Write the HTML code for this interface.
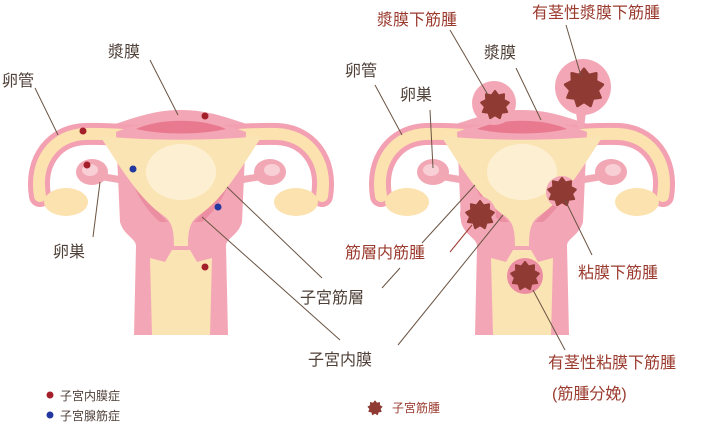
<!DOCTYPE html>
<html><head><meta charset="utf-8"><style>
html,body{margin:0;padding:0;background:#fff;}
svg{display:block}
text{font-family:"Liberation Sans","Noto Sans CJK JP",sans-serif;}
.b{fill:#4f4038;font-size:16px}
.r{fill:#9b3b2f;font-size:16px}
.l{stroke:#6b5443;stroke-width:1;fill:none}
</style></head><body>
<svg width="704" height="424" viewBox="0 0 704 424" xmlns="http://www.w3.org/2000/svg">
<defs>
<path id="star" d="M0,-1 L0.246,-0.677 L0.643,-0.766 L0.624,-0.36 L0.985,-0.174 L0.709,0.125 L0.866,0.5 L0.463,0.552 L0.342,0.94 L0,0.72 L-0.342,0.94 L-0.463,0.552 L-0.866,0.5 L-0.709,0.125 L-0.985,-0.174 L-0.624,-0.36 L-0.643,-0.766 L-0.246,-0.677 Z"/>
<g id="half">
  <path d="M122,180 L98,176" stroke="#f2a7b5" stroke-width="7"/>
  <ellipse cx="92" cy="172" rx="16" ry="13" fill="#f2a7b5"/>
  <ellipse cx="90" cy="170" rx="8" ry="6" fill="#f9cfd6"/>
  <path d="M40,196 C34,160 55,135 85,134 C120,133 150,138 181,138" fill="none" stroke="#f2a0b2" stroke-width="22" stroke-linecap="round"/>
  <path d="M40,196 C34,160 55,135 85,134 C120,133 150,138 181,138" fill="none" stroke="#fbe2ae" stroke-width="12" stroke-linecap="round"/>
  <ellipse cx="66" cy="202" rx="22" ry="14" fill="#fbe2ae"/>
</g>
<g id="uterus">
  <path d="M96,130 C130,120 150,110 181,110 C212,110 232,120 266,130 L266,142 L96,142Z" fill="#f3a7b6"/>
  <use href="#half"/>
  <use href="#half" transform="translate(362,0) scale(-1,1)"/>
  <path d="M116,132 C150,118 212,118 246,132 L242,222 C238,236 226,238 226,246 L228,335 L134,335 L136,246 C136,238 124,236 120,222 Z" fill="#f3a7b6"/>
  <path d="M136,129 C160,118 202,118 226,129 C200,135 162,135 136,129Z" fill="#e9798f"/>
  <path d="M124,145 C128,180 140,205 160,222 L168,222 C150,205 136,180 132,145Z" fill="#ec8ea2"/>
  <path d="M238,145 C234,180 222,205 202,222 L194,222 C212,205 226,180 230,145Z" fill="#ec8ea2"/>
  <path d="M100,136 C150,141 212,141 262,136 C240,170 222,200 198,216 C190,222 188,230 188,246 L174,246 C174,230 172,222 164,216 C140,200 122,170 100,136Z" fill="#fbe4b4"/>
  <ellipse cx="181" cy="172" rx="35" ry="28" fill="#fdf0d2"/>
  <path d="M150,258 L165,262 L172,250 L190,250 L197,262 L212,258 L210,335 L152,335 Z" fill="#fbe4b4"/>
</g>
</defs>

<use href="#uterus"/>
<g fill="#a3202a">
<circle cx="205" cy="116" r="3.5"/><circle cx="83" cy="131" r="3.5"/><circle cx="87" cy="165" r="3.5"/><circle cx="205" cy="267" r="3.5"/>
</g>
<g fill="#2238a0"><circle cx="133" cy="169" r="3.5"/><circle cx="218" cy="207" r="3.5"/></g>

<g transform="translate(341,0)"><use href="#uterus"/></g>
<circle cx="494" cy="103" r="22" fill="#f3a7b6"/>
<path d="M576,112 L586,112 L584,128 L578,128Z" fill="#f3a7b6"/>
<circle cx="583" cy="87" r="28" fill="#f3a7b6"/>
<circle cx="478" cy="214" r="18" fill="#f3a7b6"/>
<circle cx="562" cy="192" r="16" fill="#f3a7b6"/>
<circle cx="525" cy="276" r="18" fill="#ec8ea2"/>
<g fill="#8f3b33" stroke="#8f3b33" stroke-linejoin="round" stroke-width="0.15">
<use href="#star" transform="translate(495,105) scale(14)"/>
<use href="#star" transform="translate(584,88) scale(19)"/>
<use href="#star" transform="translate(480,215) scale(14)"/>
<use href="#star" transform="translate(562,192) scale(14)"/>
<use href="#star" transform="translate(525,276) scale(14)"/>
<use href="#star" transform="translate(375,408) scale(7)"/>
</g>

<path class="l" d="M35,88 L58,135 M150,60 L178,115 M100,182 L93,237 M227,187 L322,278 M202,217 L340,340
M375,85 L402,135 M430,110 L433,168 M516,68 L541,120 M450,30 L488,95 M566,25 L581,76
M382,288 L400,268 M422,243 L475,185 M398,345 L503,215 M565,200 L592,255 M533,290 L565,350"/>
<path d="M450,252 L472,225" stroke="#9b3b2f" stroke-width="1" fill="none"/>

<text class="b" x="2" y="86">卵管</text>
<text class="b" x="108" y="57">漿膜</text>
<text class="b" x="53" y="257">卵巣</text>
<text class="b" x="300" y="303">子宮筋層</text>
<text class="b" x="308" y="365">子宮内膜</text>
<text class="b" x="345" y="76">卵管</text>
<text class="b" x="400" y="100">卵巣</text>
<text class="b" x="484" y="58">漿膜</text>
<text class="r" x="377" y="25">漿膜下筋腫</text>
<text class="r" x="532" y="18">有茎性漿膜下筋腫</text>
<text class="r" x="345" y="258">筋層内筋腫</text>
<text class="r" x="578" y="278">粘膜下筋腫</text>
<text class="r" x="548" y="368">有茎性粘膜下筋腫</text>
<text class="r" x="552" y="399">(筋腫分娩)</text>

<circle cx="50" cy="395" r="3.5" fill="#a3202a"/>
<circle cx="50" cy="415" r="3.5" fill="#2238a0"/>
<text class="b" x="60" y="400" style="font-size:12px">子宮内膜症</text>
<text class="b" x="60" y="420" style="font-size:12px">子宮腺筋症</text>
<text class="r" x="392" y="412" style="font-size:12px">子宮筋腫</text>
</svg>
</body></html>
